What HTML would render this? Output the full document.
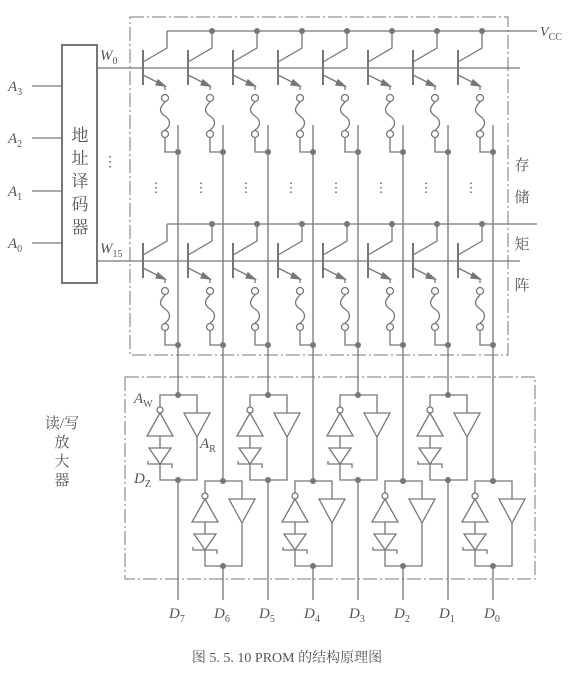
<!DOCTYPE html>
<html><head><meta charset="utf-8">
<style>
html,body{margin:0;padding:0;background:#fff;}
svg{display:block;}
text{fill:#555;}
</style></head>
<body>
<svg id="c" width="574" height="674" viewBox="0 0 574 674" xmlns="http://www.w3.org/2000/svg" font-family="Liberation Serif, Noto Serif CJK SC, serif">
<g id="g" stroke="#777" stroke-width="1.3" fill="none"></g>
<g id="t"></g>
</svg>
<script>
const bitLines = [178,223,268,313,358,403,448,493];
const dataLabels = ["7","6","5","4","3","2","1","0"];
const rowY = [68,261];          // W0, W15
const rowVcc = [31,224];
const addrY = [86,138,191,243];
const addrLabels = ["3","2","1","0"];
const NS="http://www.w3.org/2000/svg";
const g=document.getElementById('g'), tg=document.getElementById('t');
function el(tag,attrs,parent){const e=document.createElementNS(NS,tag);for(const k in attrs)e.setAttribute(k,attrs[k]);(parent||g).appendChild(e);return e;}
function line(x1,y1,x2,y2,extra){return el('line',Object.assign({x1,y1,x2,y2},extra||{}));}
function pl(pts){return el('polyline',{points:pts.map(p=>p.join(',')).join(' ')});}
function dot(x,y){const d=el('circle',{cx:x,cy:y,r:3,fill:'#777',stroke:'none'});}
function txt(x,y,s,size,anchor){const t=el('text',{x,y,'font-size':size||14,'text-anchor':anchor||'middle'},tg);t.textContent=s;return t;}
function itxt(x,y,main,sub,name,size){const t=el('text',{x,y,'font-size':size||15,'font-style':'italic'},tg);
  t.textContent=main;const s=el('tspan',{'font-size':10,dy:4,'font-style':'normal'},t);s.textContent=sub;return t;}
const dash={'stroke-dasharray':'14,3,2,3','stroke-width':1};
let b1=el('rect',Object.assign({x:130,y:17,width:378,height:338},dash));
let b2=el('rect',Object.assign({x:125,y:377,width:410,height:202},dash));
let dec=el('rect',{x:62,y:45,width:35,height:238,'stroke-width':2});
["地","址","译","码","器"].forEach((c,i)=>{const t=txt(80,141+i*23,c,17);});
addrY.forEach((y,i)=>{line(32,y,62,y);itxt(8,y+5,'A',addrLabels[i],'address-input-label');});
txt(110,166,'⋮',14);
itxt(100,60,'W','0','word-line-label');
itxt(100,253,'W','15','word-line-label');
rowY.forEach((wy,r)=>{
  const vy=rowVcc[r];
  line(97,wy,520,wy);
  line(bitLines[0]-11,vy,537,vy);
  bitLines.forEach((bx,i)=>{
    const base=bx-35;
    line(base,wy-18,base,wy+17,{'stroke-width':2});
    pl([[base,wy-6],[bx-11,wy-20],[bx-11,vy]]);
    if(i>0)dot(bx-11,vy);
    pl([[base,wy+7],[bx-13,wy+18],[bx-13,wy+22]]);
    el('polygon',{points:`${bx-13},${wy+18} ${bx-20},${wy+12} ${bx-22},${wy+17}`,fill:'#777'});
    el('circle',{cx:bx-13,cy:wy+30,r:3.5,fill:'#fff'});
    el('path',{d:`M${bx-13},${wy+34} c-6,6 -6,10 0,14 c6,4 6,10 0,14`});
    el('circle',{cx:bx-13,cy:wy+66,r:3.5,fill:'#fff'});
    pl([[bx-13,wy+70],[bx-13,wy+84],[bx,wy+84]]);
    dot(bx,wy+84);
    if(r===0){txt(bx-22,192,'⋮',13);}
  });
});
itxt(540,36,'V','CC','vcc-label',14);
["存","储","矩","阵"].forEach((c,i)=>{const t=txt(522,[170,202,249,290][i],c,15);});
bitLines.forEach((bx,i)=>{
  const upper=i%2===0;
  line(bx,125,bx,upper?395:481);
  line(bx,upper?480:566,bx,600);
  itxt(bx-9,618,'D',dataLabels[i],'data-output-label');
});
function amp(cx,ty){
  const by=ty+85, lx=cx-18, rx=cx+19;
  pl([[lx,ty+12],[lx,ty],[rx,ty],[rx,ty+18]]);dot(cx,ty);
  el('circle',{cx:lx,cy:ty+15,r:3,fill:'#fff'});
  el('polygon',{points:`${lx},${ty+18} ${lx-13},${ty+41} ${lx+13},${ty+41}`});
  line(lx,ty+41,lx,ty+53);
  el('polygon',{points:`${lx-11},${ty+53} ${lx+11},${ty+53} ${lx},${ty+69}`});
  pl([[lx-12,ty+66],[lx-12,ty+69],[lx+12,ty+69],[lx+12,ty+73]]);
  pl([[lx,ty+69],[lx,by],[rx,by],[rx,ty+42]]);
  el('polygon',{points:`${rx-13},${ty+18} ${rx+13},${ty+18} ${rx},${ty+42}`});
  dot(cx,by);
}
bitLines.forEach((bx,i)=>{amp(bx,i%2===0?395:481);});
itxt(134,403,'A','W','aw-label');
itxt(200,448,'A','R','ar-label');
itxt(134,483,'D','Z','dz-label');
["读/写","放","大","器"].forEach((c,i)=>{const t=txt(62,428+i*19,c,15);});
const cap=txt(287,662,'图 5. 5. 10   PROM 的结构原理图',14);
</script>
</body></html>
